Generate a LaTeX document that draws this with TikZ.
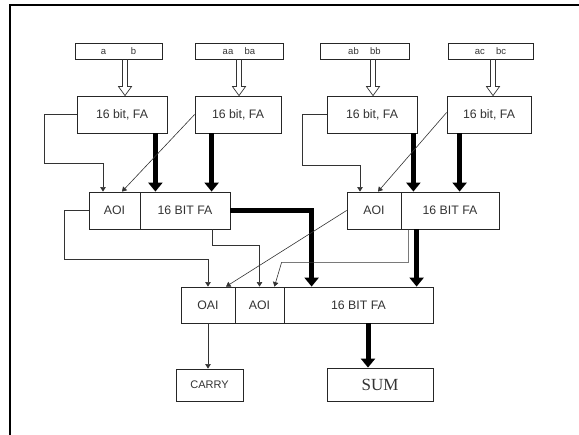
\documentclass[tikz,border=0pt]{standalone}
\usepackage{fontspec}
\setmainfont{Liberation Sans}
\newfontfamily\serifsum{Liberation Serif}
\usetikzlibrary{arrows.meta,calc}
\tikzset{
  box/.style={draw=black!85, line width=0.8pt, inner sep=0pt, font=\fontsize{12.3}{14}\selectfont, text=black!80},
  inbox/.style={box, minimum height=16pt, font=\fontsize{9.5}{10}\selectfont},
  thin/.style={draw=black!80, line width=0.6pt},
  tarrow/.style={thin, -{Triangle[length=4.5pt,width=5.5pt]}},
  thick/.style={draw=black, line width=5pt, -{Triangle[length=9pt,width=14pt]}},
}
\newcommand\harrow[2]{%
  \draw[line width=0.7pt, draw=black!80] let \p1=(#1), \p2=(#2) in
   (\x1-2.5pt,\y1) -- (\x1-2.5pt,\y2+9pt) -- (\x1-6.5pt,\y2+9pt) -- (\x1,\y2)
   -- (\x1+6.5pt,\y2+9pt) -- (\x1+2.5pt,\y2+9pt) -- (\x1+2.5pt,\y1);}
\begin{document}
\begin{tikzpicture}[x=1pt,y=-1pt]
\useasboundingbox (0,0) rectangle (579,435);
\draw[line width=1.2pt] (10,435) -- (10,5) -- (579,5);

% inputs
\node[inbox, minimum width=87pt] (in1) at (118.5,51) {a\hspace{2.6em}b};
\node[inbox, minimum width=88pt] (in2) at (239,51) {aa\hspace{1.2em}ba};
\node[inbox, minimum width=89pt] (in3) at (364.5,51) {ab\hspace{1.2em}bb};
\node[inbox, minimum width=85pt] (in4) at (490.5,51) {ac\hspace{1.2em}bc};

% first FA row
\node[box, minimum width=90pt, minimum height=37pt] (fa1) at (122,114.5) {16 bit, FA};
\node[box, minimum width=86pt, minimum height=37pt] (fa2) at (238,114.5) {16 bit, FA};
\node[box, minimum width=90pt, minimum height=37pt] (fa3) at (372,114.5) {16 bit, FA};
\node[box, minimum width=84pt, minimum height=37pt] (fa4) at (489,114.5) {16 bit, FA};

% middle row
\node[box, minimum width=51pt, minimum height=37pt] (aoi1) at (114.5,210.5) {AOI};
\node[box, minimum width=90pt, minimum height=37pt] (mfa1) at (185,210.5) {16 BIT FA};
\node[box, minimum width=54pt, minimum height=37pt] (aoi2) at (374,210.5) {AOI};
\node[box, minimum width=98pt, minimum height=37pt] (mfa2) at (450,210.5) {16 BIT FA};

% bottom row
\node[box, minimum width=54pt, minimum height=36pt] (oai) at (208,305) {OAI};
\node[box, minimum width=49pt, minimum height=36pt] (aoi3) at (259.5,305) {AOI};
\node[box, minimum width=149pt, minimum height=36pt] (bfa) at (358.5,305) {16 BIT FA};

% outputs
\node[box, minimum width=67pt, minimum height=32pt, font=\fontsize{11}{12}\selectfont] (carry) at (209.5,385) {CARRY};
\node[box, minimum width=106pt, minimum height=33pt, font=\serifsum\fontsize{17}{19}\selectfont] (sum) at (380,384.5) {SUM};

% hollow arrows
\harrow{[xshift=3pt]fa1.north |- in1.south}{[xshift=3pt]fa1.north}
\harrow{[xshift=1pt]fa2.north |- in2.south}{[xshift=1pt]fa2.north}
\harrow{[xshift=1pt]fa3.north |- in3.south}{[xshift=1pt]fa3.north}
\harrow{[xshift=4pt]fa4.north |- in4.south}{[xshift=4pt]fa4.north}

% first row -> middle row
\draw[thick] ([xshift=-12pt]fa1.south east) -- ([xshift=-12pt]fa1.south east |- mfa1.north);
\draw[thick] ([xshift=17pt]fa2.south west) -- ([xshift=17pt]fa2.south west |- mfa1.north);
\draw[tarrow] (fa1.west) -- ++(-32,0) -- ++(0,48.5) -| ([xshift=-11.5pt]aoi1.north);
\draw[tarrow] (fa2.west) -- ([xshift=7.5pt]aoi1.north);

\draw[thick] ([xshift=-4pt]fa3.south east) -- ([xshift=-4pt]fa3.south east |- mfa2.north);
\draw[thick] ([xshift=13pt]fa4.south west) -- ([xshift=13pt]fa4.south west |- mfa2.north);
\draw[tarrow] (fa3.west) -- ++(-24,0) -- ++(0,50.5) -| ([xshift=-14pt]aoi2.north);
\draw[tarrow] ([yshift=2pt]fa4.west) -- ([xshift=4pt]aoi2.north);

% middle row -> bottom row
\draw[thick] (mfa1.east) -| ([xshift=28pt]bfa.north west);
\draw[tarrow] (aoi1.west) -- ++(-24,0) -- ++(0,48.5) -| (oai.north);
\draw[tarrow] ([xshift=27pt]mfa1.south) -- ++(0,16) -| (aoi3.north);
\draw[tarrow] (aoi2.west) -- ([xshift=18pt]oai.north);
\draw[tarrow] ([xshift=8pt]mfa2.south west) -- ++(0,33) -- ++(-127,0) -- ([xshift=-10pt]aoi3.north east);
\draw[thick] ([xshift=16pt]mfa2.south west) -- ([xshift=16pt]mfa2.south west |- bfa.north);

% bottom row -> outputs
\draw[tarrow] (oai.south) -- (oai.south |- carry.north);
\draw[thick] ([xshift=-12pt]sum.north |- bfa.south) -- ([xshift=-12pt]sum.north);
\end{tikzpicture}
\end{document}
